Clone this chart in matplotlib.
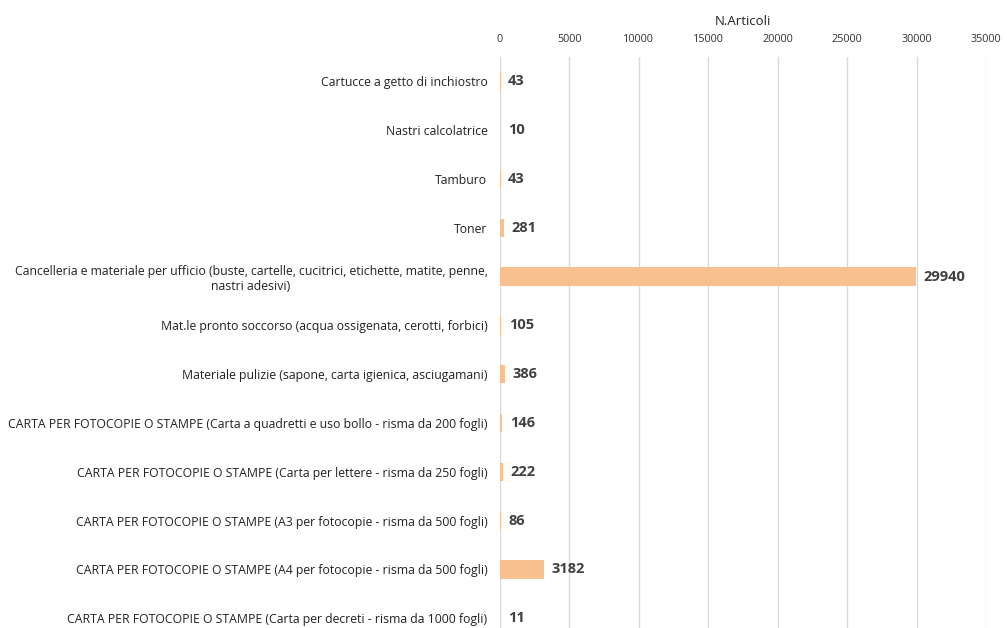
import matplotlib
matplotlib.use("Agg")
import matplotlib.pyplot as plt

categories = [
    "Cartucce a getto di inchiostro",
    "Nastri calcolatrice",
    "Tamburo",
    "Toner",
    "Cancelleria e materiale per ufficio (buste, cartelle, cucitrici, etichette, matite, penne,\nnastri adesivi)",
    "Mat.le pronto soccorso (acqua ossigenata, cerotti, forbici)",
    "Materiale pulizie (sapone, carta igienica, asciugamani)",
    "CARTA PER FOTOCOPIE O STAMPE (Carta a quadretti e uso bollo - risma da 200 fogli)",
    "CARTA PER FOTOCOPIE O STAMPE (Carta per lettere - risma da 250 fogli)",
    "CARTA PER FOTOCOPIE O STAMPE (A3 per fotocopie - risma da 500 fogli)",
    "CARTA PER FOTOCOPIE O STAMPE (A4 per fotocopie - risma da 500 fogli)",
    "CARTA PER FOTOCOPIE O STAMPE (Carta per decreti - risma da 1000 fogli)",
]
values = [43, 10, 43, 281, 29940, 105, 386, 146, 222, 86, 3182, 11]
xticks = [0, 5000, 10000, 15000, 20000, 25000, 30000, 35000]

plt.rcParams["font.family"] = ["Open Sans", "DejaVu Sans"]

fig = plt.figure(figsize=(10.07, 6.28), dpi=100)
ax = fig.add_axes([0.4965, -0.0233, 0.4826, 0.9325])

y = list(range(len(categories)))
ax.barh(y, values, height=0.38, color="#F9C08F", zorder=2)
ax.set_ylim(len(categories) - 0.5, -0.5)
ax.set_xlim(0, 35000)
ax.set_xticks(xticks)
ax.set_xticklabels([str(t) for t in xticks], fontsize=7.8, color="#333333")
ax.xaxis.tick_top()
ax.xaxis.set_label_position("top")
ax.set_xlabel("N.Articoli", fontsize=9.5, color="#222222", labelpad=6)
ax.tick_params(axis="x", length=0, pad=9)
ax.set_yticks(y)
ax.set_yticklabels(categories, fontsize=8.8, color="#222222", multialignment="center")
ax.tick_params(axis="y", length=0, pad=9)
ax.grid(axis="x", color="#DADADA", linewidth=1, zorder=0)
for s in ax.spines.values():
    s.set_visible(False)

for yi, v in zip(y, values):
    ax.annotate(str(v), xy=(v, yi), xytext=(5.5, 0), textcoords="offset points",
                ha="left", va="center", fontsize=10.5, fontweight="bold", color="#404040")

fig.savefig("out.png", dpi=100)
